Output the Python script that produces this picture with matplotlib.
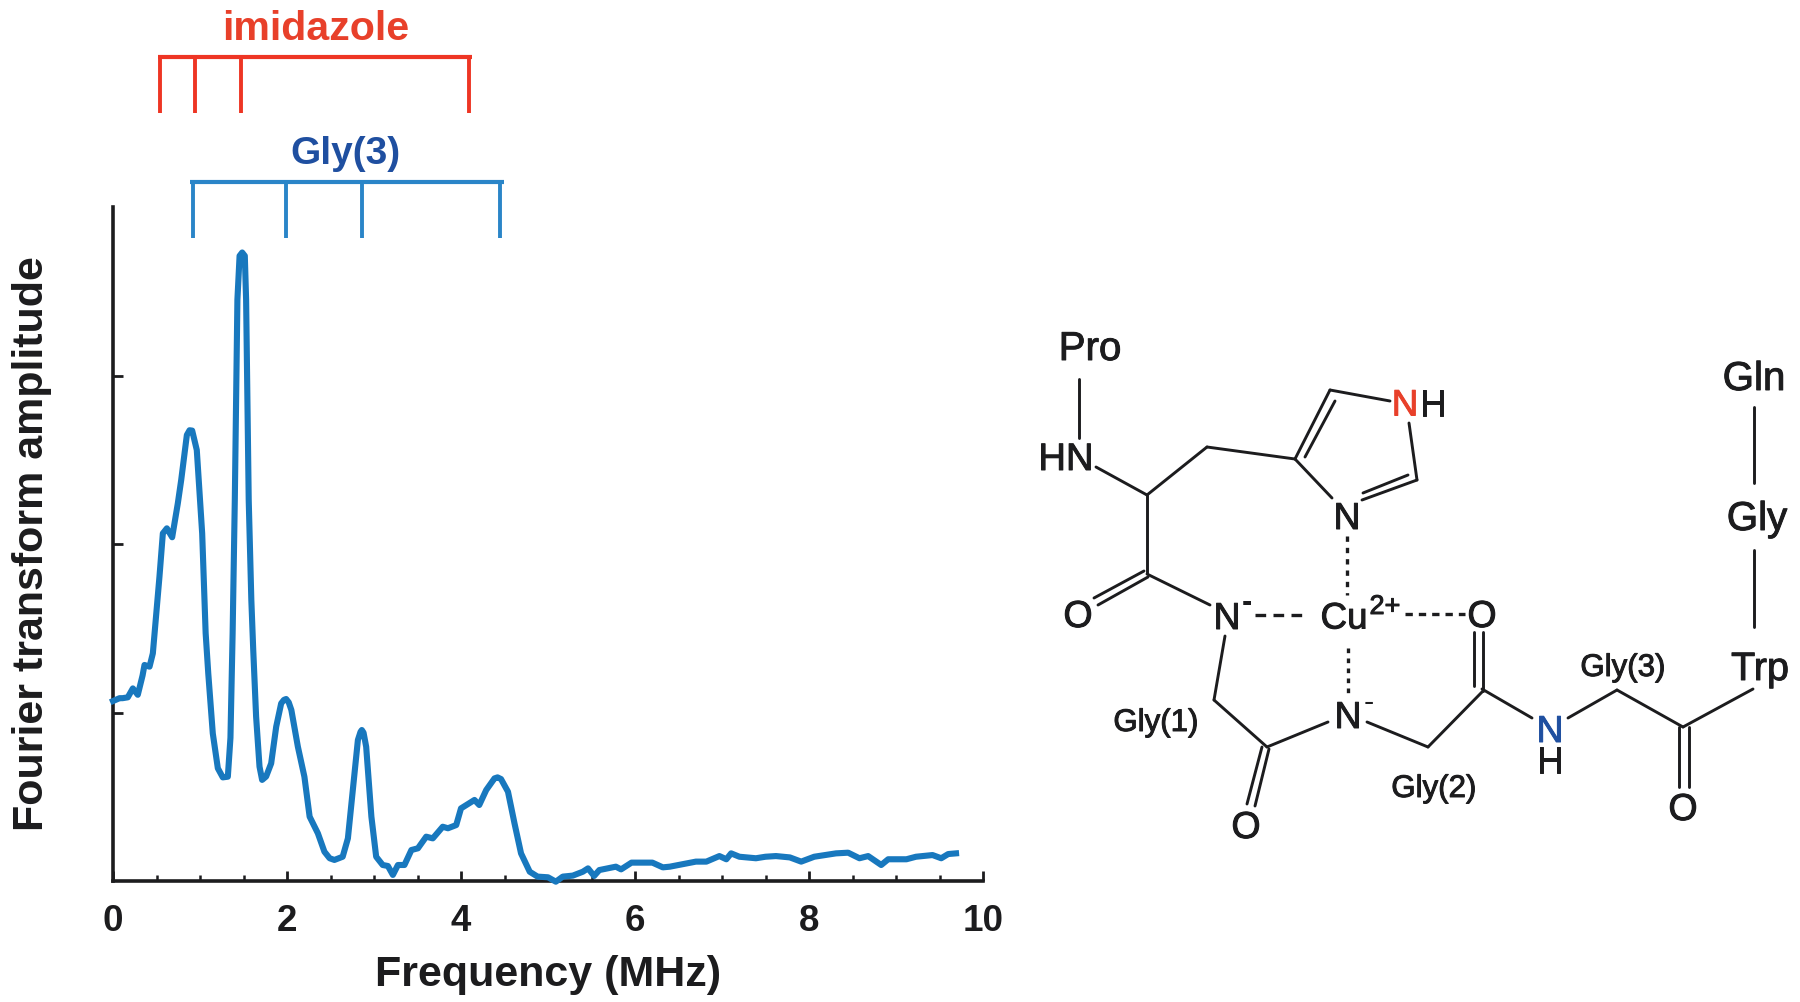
import matplotlib
matplotlib.use("Agg")
import matplotlib.pyplot as plt
import matplotlib.patheffects as pe

plt.rcParams['font.family'] = ['Liberation Sans', 'DejaVu Sans']

# Spectrum
freq = [0, .075, .11, .17, .228, .285, .34, .362, .42, .458, .534, .573, .619, .68, .745, .784, .849, .88, .91, .963,
        1.025, 1.065, 1.095, 1.147, 1.205, 1.262, 1.32, 1.35, 1.375, 1.40, 1.43, 1.455, 1.485, 1.515, 1.53, 1.56,
        1.59, 1.612, 1.645, 1.684, 1.714, 1.76, 1.818, 1.876, 1.933, 1.965, 1.99, 2.02, 2.05, 2.125, 2.2, 2.26, 2.355,
        2.43, 2.49, 2.545, 2.64, 2.70, 2.756, 2.815, 2.845, 2.86, 2.88, 2.91, 2.97, 3.025, 3.10, 3.16, 3.217, 3.275,
        3.35, 3.43, 3.505, 3.6, 3.676, 3.79, 3.85, 3.945, 4.0, 4.08, 4.155, 4.21, 4.29, 4.385, 4.42, 4.46, 4.54,
        4.615, 4.69, 4.79, 4.88, 5.0, 5.09, 5.17, 5.285, 5.4, 5.46, 5.53, 5.59, 5.78, 5.84, 5.96, 6.2, 6.32, 6.4,
        6.7, 6.82, 6.97, 7.05, 7.105, 7.2, 7.39, 7.5, 7.62, 7.78, 7.91, 8.06, 8.31, 8.45, 8.58, 8.68, 8.83, 8.91,
        9.12, 9.23, 9.42, 9.52, 9.6, 9.69]
amplitude = [1.068, 1.085, 1.085, 1.09, 1.143, 1.105, 1.22, 1.282, 1.272, 1.351, 1.806, 2.063, 2.093, 2.04, 2.241,
             2.38, 2.647, 2.675, 2.673, 2.558, 2.063, 1.47, 1.232, .876, .669, .615, .619, .85, 1.47, 2.26, 3.45,
             3.71, 3.73, 3.71, 3.45, 2.26, 1.668, 1.37, .975, .679, .6, .62, .698, .916, 1.054, 1.075, 1.08, 1.06,
             1.015, .797, .619, .382, .283, .174, .135, .125, .144, .253, .54, .837, .885, .896, .88, .797, .382,
             .144, .095, .089, .036, .095, .095, .184, .194, .263, .253, .322, .313, .332, .431, .457, .481, .451,
             .54, .609, .615, .605, .53, .342, .164, .055, .026, .022, -.004, .026, .032, .055, .075, .03, .065,
             .085, .069, .109, .109, .081, .085, .115, .115, .148, .129, .164, .144, .135, .144, .148, .14, .115,
             .144, .164, .168, .135, .148, .095, .129, .129, .144, .154, .135, .16, .164]

imidazole_peaks = [0.545, 0.94, 1.475, 4.09]
gly3_peaks = [0.92, 1.99, 2.86, 4.45]

x_major = [0, 2, 4, 6, 8, 10]
x_minor = [.5, 1, 1.5, 2.5, 3, 3.5, 4.5, 5, 5.5, 6.5, 7, 7.5, 8.5, 9, 9.5]
y_major = [1, 2, 3]

W, H = 1800, 1003
fig = plt.figure(figsize=(W / 100, H / 100), dpi=100, facecolor='white')
ax = fig.add_axes([113 / W, 1 - 882 / H, 870 / W, 674 / H])
ax.set_xlim(0, 10)
ax.set_ylim(0, 4)
ax.patch.set_alpha(0)

BLACK = '#1c1c1e'
CURVE = '#1878BE'
RED = '#EE3524'
RED_TXT = '#E8402A'
BLUE = '#2A85C8'
BLUE_TXT = '#1F4FA0'

ax.plot(freq, amplitude, color=CURVE, lw=4.4, clip_on=False, solid_joinstyle='round', zorder=5)

for s in ('top', 'right'):
    ax.spines[s].set_visible(False)
for s in ('left', 'bottom'):
    ax.spines[s].set_linewidth(2.6)
    ax.spines[s].set_color(BLACK)
ax.set_xticks(x_major)
ax.set_xticks(x_minor, minor=True)
ax.set_yticks(y_major)
ax.set_yticklabels([])
ax.tick_params(axis='x', which='major', direction='in', length=7, width=2, color=BLACK, pad=15.5,
               labelsize=26.5, labelcolor=BLACK)
ax.tick_params(axis='x', which='minor', direction='in', length=4.5, width=1.8, color=BLACK)
ax.tick_params(axis='y', which='major', direction='in', length=7, width=2, color=BLACK)
for t in ax.get_xticklabels():
    t.set_fontweight('bold')

ax.set_xlabel('Frequency (MHz)', fontsize=31, fontweight='bold', color=BLACK, va='center')
ax.xaxis.set_label_coords(0.5, -0.1375)
ax.set_ylabel('Fourier transform amplitude', fontsize=31, fontweight='bold', color=BLACK, va='center')
ax.yaxis.set_label_coords(-0.0935, 0.5015)


def bracket(peaks, y_bar, y_tip, color):
    ax.plot([min(peaks) - 0.03, max(peaks) + 0.04], [y_bar, y_bar], color=color, lw=3.0, clip_on=False,
            solid_capstyle='butt')
    for p in peaks:
        ax.plot([p, p], [y_bar, y_tip], color=color, lw=2.8, clip_on=False, solid_capstyle='butt')


bracket(imidazole_peaks, 4.89, 4.558, RED)
bracket(gly3_peaks, 4.148, 3.816, BLUE)

# Overlay in image pixels for the labels and the structure diagram
ov = fig.add_axes([0, 0, 1, 1])
ov.set_xlim(0, W)
ov.set_ylim(H, 0)
ov.axis('off')
ov.patch.set_alpha(0)

ov.text(316, 29, 'imidazole', fontsize=29.6, fontweight='bold', color=RED_TXT, ha='center', va='center')
ov.text(345, 154, 'Gly(3)', fontsize=28, fontweight='bold', color=BLUE_TXT, ha='center', va='center')

bonds = [
    (1079, 380, 1079, 439), (1096, 468, 1147, 496), (1147, 496, 1207, 448), (1207, 448, 1295, 460),
    (1147, 496, 1147, 574), (1144, 572, 1094, 599), (1148, 578, 1098, 606), (1147, 575, 1210, 606),
    (1295, 460, 1330, 391), (1305, 458, 1335, 402), (1330, 391, 1390, 402), (1409, 424, 1417, 481),
    (1417, 481, 1362, 501), (1408, 476, 1363, 494), (1295, 460, 1332, 499),
    (1225, 637, 1214, 701), (1214, 701, 1267, 748), (1262, 748, 1247, 805), (1269, 750, 1255, 807),
    (1267, 748, 1328, 723), (1367, 723, 1428, 748), (1428, 748, 1483, 692),
    (1474, 633, 1474, 687), (1483, 633, 1483, 692), (1482, 690, 1532, 719), (1568, 719, 1617, 691),
    (1617, 691, 1683, 728), (1679, 728, 1679, 788), (1689, 728, 1689, 788), (1683, 728, 1753, 690),
    (1754, 408, 1754, 484), (1754, 551, 1754, 628),
]
for x0, y0, x1, y1 in bonds:
    ov.plot([x0, x1], [y0, y1], color=BLACK, lw=2.1, solid_capstyle='round')

coord_bonds = [
    (1347, 537, 1347, 596, (0, (1.6, 1.8))),
    (1255, 616, 1307, 616, (0, (3.2, 2.2))),
    (1405, 615, 1465, 615, (0, (2.2, 1.8))),
    (1348, 649, 1348, 696, (0, (1.4, 1.6))),
]
for x0, y0, x1, y1, style in coord_bonds:
    ov.plot([x0, x1], [y0, y1], color=BLACK, lw=2.4, linestyle=style)

heavier = [pe.withStroke(linewidth=0.7, foreground=BLACK)]

big = [
    (1090, 350, 'Pro', BLACK, 29), (1066, 461, 'HN', BLACK, 27.5), (1405, 407, 'N', RED_TXT, 26.5),
    (1433, 407, 'H', BLACK, 26.5), (1347, 520, 'N', BLACK, 27), (1078, 618, 'O', BLACK, 27),
    (1227, 620, 'N', BLACK, 27), (1344, 620, 'Cu', BLACK, 26.5), (1482, 618, 'O', BLACK, 27),
    (1348, 719, 'N', BLACK, 27), (1246, 829, 'O', BLACK, 27), (1550, 733, 'N', BLUE_TXT, 27),
    (1550, 764, 'H', BLACK, 27), (1760, 670, 'Trp', BLACK, 28.5), (1683, 811, 'O', BLACK, 27),
    (1757, 520, 'Gly', BLACK, 29), (1754, 380, 'Gln', BLACK, 29),
]
for x, y, s, c, fs in big:
    t = ov.text(x, y, s, fontsize=fs, color=c, ha='center', va='center')
    t.set_path_effects([pe.withStroke(linewidth=0.7, foreground=c)])

small = [(1156, 724, 'Gly(1)'), (1434, 790, 'Gly(2)'), (1623, 669, 'Gly(3)')]
for x, y, s in small:
    t = ov.text(x, y, s, fontsize=22.5, color=BLACK, ha='center', va='center')
    t.set_path_effects(heavier)

ov.text(1385, 608, '2+', fontsize=19.5, color=BLACK, ha='center', va='center', path_effects=heavier)
ov.text(1247, 603, '-', fontsize=22, fontweight='bold', color=BLACK, ha='center', va='center')
ov.text(1369, 703, '-', fontsize=22, color=BLACK, ha='center', va='center')

fig.savefig('out.png', dpi=100, facecolor='white')
